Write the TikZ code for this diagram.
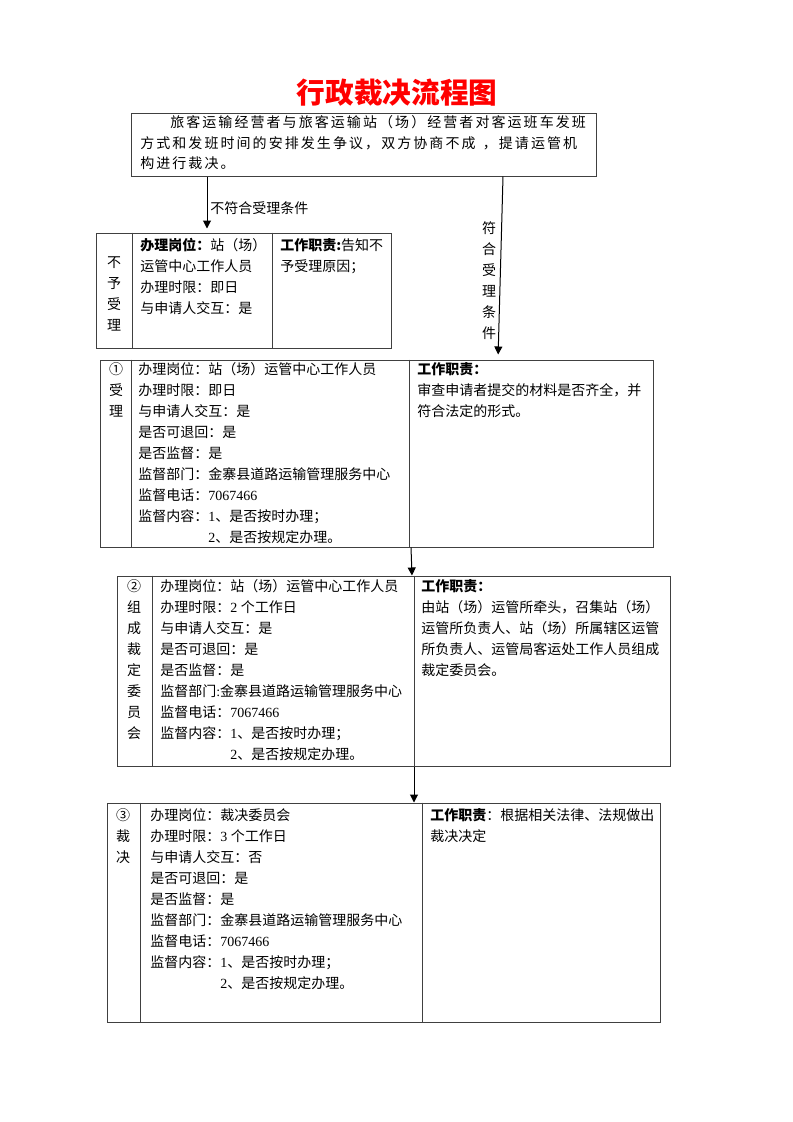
\documentclass[tikz,border=0pt]{standalone}
\usepackage{fontspec}
\setmainfont{Noto Sans CJK SC}
\newfontfamily\tn{Liberation Serif}
\usetikzlibrary{arrows.meta,fit}
\makeatletter
\def\lsp#1{\lsp@#1\@nil}
\def\lsp@#1{\ifx#1\@nil\else#1\kern1.55pt\expandafter\lsp@\fi}
\makeatother
\newcommand\st{\rule{0pt}{11pt}}
\newcommand\fs{\fontsize{10.5pt}{15.75pt}\selectfont}
\tikzset{
 cell/.style={draw=black!75, line width=0.75pt, inner sep=0pt},
 txt/.style={anchor=north west, inner sep=0pt, align=left, font=\fs},
 col/.style={anchor=north, inner sep=0pt, align=center, font=\fs},
 arr/.style={draw=black, line width=0.75pt, -{Triangle[length=6pt,width=6pt]}},
 divider/.style={draw=black!75, line width=0.75pt},
}
\begin{document}
\begin{tikzpicture}[x=0.75pt,y=-0.75pt]
\fill[white] (0,0) rectangle (793,1122);
\useasboundingbox (0,0) rectangle (793,1122);

% title
\node[font=\fontsize{21.5pt}{24pt}\selectfont\bfseries, text=red, inner sep=0pt] (title) at (397,93) {行政裁决流程图};

% boxes
\node[cell, fit={(131,113) (596,176)}] (top) {};
\node[cell, fit={(96,233) (391,348)}] (nb) {};
\node[cell, fit={(100,360) (653,547)}] (b1) {};
\node[cell, fit={(117,576) (670,766)}] (b2) {};
\node[cell, fit={(107,803) (660,1022)}] (b3) {};

% dividers
\draw[divider] (nb.north -| 132,0) -- (nb.south -| 132,0);
\draw[divider] (nb.north -| 272,0) -- (nb.south -| 272,0);
\draw[divider] (b1.north -| 131,0) -- (b1.south -| 131,0);
\draw[divider] (b1.north -| 409,0) -- (b1.south -| 409,0);
\draw[divider] (b2.north -| 152,0) -- (b2.south -| 152,0);
\draw[divider] (b2.north -| 414,0) -- (b2.south -| 414,0);
\draw[divider] (b3.north -| 140,0) -- (b3.south -| 140,0);
\draw[divider] (b3.north -| 422,0) -- (b3.south -| 422,0);

% top text
\node[txt, font=\fontsize{10.5pt}{15.4pt}\selectfont] (toptext) at (140,112.6) {\st\hspace*{22.5pt}\lsp{旅客运输经营者与旅客运输站（场）经营者对客运班车发班}\\
\lsp{方式和发班时间的安排发生争议，双方协商不成{\ }，提请运管机}\\
\lsp{构进行裁决。}};

% labels on connectors
\node[anchor=west, inner sep=0pt, font=\fs] (lno) at (210,208) {不符合受理条件};
\node[col] (lyes) at (489,218.6) {\st 符\\合\\受\\理\\条\\件};

% 不予受理 box
\node[col] (nbl) at (114,252.6) {\st 不\\予\\受\\理};
\node[txt] (nbm) at (140,235.6) {\st\textbf{办理岗位：}站（场）\\运管中心工作人员\\办理时限：即日\\与申请人交互：是};
\node[txt] (nbr) at (280,235.6) {\st\textbf{工作职责:}告知不\\予受理原因；};

% box 1
\node[col] (b1l) at (116,359.6) {\st ①\\受\\理};
\node[txt] (b1m) at (138,359.6) {\st 办理岗位：站（场）运管中心工作人员\\
办理时限：即日\\
与申请人交互：是\\
是否可退回：是\\
是否监督：是\\
监督部门：金寨县道路运输管理服务中心\\
监督电话：{\tn 7067466}\\
监督内容：{\tn 1}、是否按时办理；\\
\hspace*{5em}{\tn 2}、是否按规定办理。};
\node[txt] (b1r) at (417,359.6) {\st\textbf{工作职责：}\\审查申请者提交的材料是否齐全，并\\符合法定的形式。};

% box 2
\node[col] (b2l) at (134,576.6) {\st ②\\组\\成\\裁\\定\\委\\员\\会};
\node[txt] (b2m) at (160,576.6) {\st 办理岗位：站（场）运管中心工作人员\\
办理时限：{\tn 2 }个工作日\\
与申请人交互：是\\
是否可退回：是\\
是否监督：是\\
监督部门{\tn :}金寨县道路运输管理服务中心\\
监督电话：{\tn 7067466}\\
监督内容：{\tn 1}、是否按时办理；\\
\hspace*{5em}{\tn 2}、是否按规定办理。};
\node[txt] (b2r) at (421,576.6) {\st\textbf{工作职责：}\\由站（场）运管所牵头，召集站（场）\\运管所负责人、站（场）所属辖区运管\\所负责人、运管局客运处工作人员组成\\裁定委员会。};

% box 3
\node[col] (b3l) at (123,805.6) {\st ③\\裁\\决};
\node[txt] (b3m) at (150,805.6) {\st 办理岗位：裁决委员会\\
办理时限：{\tn 3 }个工作日\\
与申请人交互：否\\
是否可退回：是\\
是否监督：是\\
监督部门：金寨县道路运输管理服务中心\\
监督电话：{\tn 7067466}\\
监督内容：{\tn 1}、是否按时办理；\\
\hspace*{5em}{\tn 2}、是否按规定办理。};
\node[txt] (b3r) at (430,805.6) {\st\textbf{工作职责}：根据相关法律、法规做出\\裁决决定};

% connectors
\draw[arr, shorten >=3pt] (top.south -| 207,0) -- (nb.north -| 207,0);
\draw[arr, shorten >=3.75pt] (top.south -| 503,0) -- (b1.north -| 498,0);
\draw[arr] (b1.south -| 411,0) -- (b2.north -| 412,0);
\draw[arr] (b2.south -| 414,0) -- (b3.north -| 414,0);
\end{tikzpicture}
\end{document}
